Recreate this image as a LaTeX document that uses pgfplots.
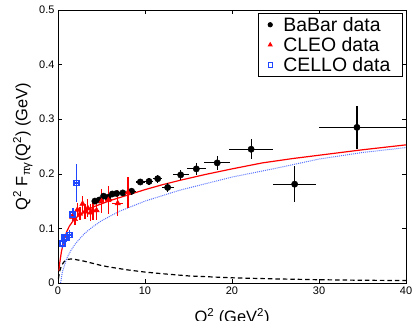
\documentclass[border=0pt]{standalone}
\usepackage{fontspec}
\setmainfont{Liberation Sans}
\usepackage{pgfplots}
\pgfplotsset{compat=1.18}
\definecolor{celloblue}{rgb}{0.12,0.28,1}
\definecolor{dotblue}{rgb}{0.35,0.45,1}

\begin{document}
\begin{tikzpicture}
\begin{axis}[
  scale only axis, width=348bp, height=273bp,
  xmin=0, xmax=40, ymin=0, ymax=0.5,
  xtick={0,10,20,30,40}, ytick={0,0.1,0.2,0.3,0.4,0.5},
  tick align=inside, major tick length=4bp,
  every tick/.style={black, line width=0.6pt},
  axis line style={line width=1pt},
  /pgf/number format/assume math mode=true,
  tick label style={font=\fontsize{11}{13}\selectfont},
  label style={font=\fontsize{16.5}{19}\selectfont},
  xlabel={Q\textsuperscript{2} (GeV\textsuperscript{2})},
  xlabel style={yshift=-7bp},
  ylabel={Q\textsuperscript{2} F\textsubscript{πγ}(Q\textsuperscript{2}) (GeV)},
  legend style={at={(0.99,0.988)}, anchor=north east, draw=black,
    font=\fontsize{19.5}{21}\selectfont,
    cells={anchor=west, font=\fontsize{19.5}{21}\selectfont},
    inner xsep=10bp, inner ysep=1.5bp, row sep=0.5bp,
    /tikz/every odd column/.append style={column sep=9bp}},
  legend image post style={mark size=2.2pt, line width=0.8pt},
]
% model curves
\addplot[red, line width=1.2pt, forget plot] coordinates {
(0.1,0.022)(0.2,0.037)(0.4,0.058)(0.6,0.072)(0.8,0.084)(1.0,0.094)(1.3,0.104)
(1.7,0.113)(2.2,0.121)(3,0.130)(4,0.139)(5,0.145)(6,0.151)(8,0.161)(10,0.171)
(12,0.180)(14,0.188)(17,0.199)(20,0.209)(23.5,0.220)(27,0.228)(30,0.234)
(35,0.244)(40,0.253)};
\addplot[dotblue, line width=1pt, densely dotted, forget plot] coordinates {
(0.3,0.0)(0.5,0.02)(1,0.045)(1.5,0.06)(2,0.072)(3,0.09)(4,0.103)(5,0.114)
(7,0.131)(10,0.150)(14,0.170)(20,0.194)(25,0.21)(30,0.227)(35,0.239)(40,0.248)};
\addplot[black, line width=1.2pt, dash pattern=on 4.5pt off 3pt, forget plot] coordinates {
(0.05,0.008)(0.2,0.022)(0.4,0.032)(0.7,0.039)(1,0.043)(1.5,0.044)(2,0.043)
(3,0.040)(4,0.036)(5,0.032)(6,0.029)(8,0.024)(10,0.020)(12,0.017)(15,0.013)
(20,0.0095)(25,0.0075)(30,0.006)(35,0.005)(40,0.0045)};
% BaBar
\addplot[black, only marks, mark=*, mark size=3.2pt,
  error bars/.cd, x dir=both, x explicit, y dir=both, y explicit,
  error mark=none, error bar style={line width=1.2pt, black}] coordinates {
(4.24,0.150) +- (0.25,0.005)
(4.74,0.152) +- (0.25,0.005)
(5.24,0.159) +- (0.25,0.005)
(5.74,0.157) +- (0.25,0.005)
(6.24,0.163) +- (0.25,0.005)
(6.74,0.164) +- (0.25,0.005)
(7.45,0.165) +- (0.5,0.006)
(8.46,0.168) +- (0.5,0.006)
(9.46,0.185) +- (0.5,0.006)
(10.46,0.186) +- (0.5,0.006)
(11.46,0.191) +- (0.5,0.007)
(12.60,0.175) +- (0.7,0.008)
(14.10,0.198) +- (0.9,0.009)
(15.90,0.209) +- (1.1,0.011)
(18.30,0.220) +- (1.5,0.013)
(22.20,0.245) +- (2.5,0.018)
(27.20,0.181) +- (2.5,0.033)
(34.36,0.285) += (5.64,0.039) -= (4.36,0.039)
};
% CLEO
\addplot[red, only marks, mark=triangle*, mark size=3.2pt,
  error bars/.cd, x dir=both, x explicit, y dir=both, y explicit,
  error mark=none, error bar style={line width=1.3pt, red}] coordinates {
(1.64,0.121) +- (0.14,0.010)
(1.94,0.117) +- (0.15,0.010)
(2.23,0.134) +- (0.15,0.012)
(2.53,0.127) +- (0.15,0.012)
(2.82,0.145) +- (0.15,0.015)
(3.12,0.131) +- (0.15,0.014)
(3.43,0.137) +- (0.15,0.016)
(3.72,0.129) +- (0.15,0.016)
(4.01,0.133) +- (0.15,0.018)
(4.43,0.133) +- (0.25,0.018)
(5.01,0.150) +- (0.3,0.022)
(5.79,0.152) +- (0.4,0.026)
(6.86,0.146) +- (0.6,0.024)
(8.03,0.166) +- (0.6,0.028)
};
% CELLO
\addplot[celloblue, only marks, mark=square, mark size=2.5pt, line width=1.8pt,
  error bars/.cd, x dir=both, x explicit, y dir=both, y explicit,
  error mark=none, error bar style={line width=1.3pt, celloblue}] coordinates {
(0.54,0.073) +- (0.1,0.008)
(0.78,0.083) +- (0.1,0.007)
(1.01,0.084) +- (0.1,0.008)
(1.34,0.088) +- (0.15,0.009)
(1.71,0.125) +- (0.2,0.012)
(2.15,0.183) +- (0.25,0.035)
};
\legend{BaBar data, CLEO data, CELLO data}
\end{axis}
\pgfresetboundingbox
\path (-58bp,-38bp) rectangle (357bp,283bp);
\end{tikzpicture}
\end{document}
